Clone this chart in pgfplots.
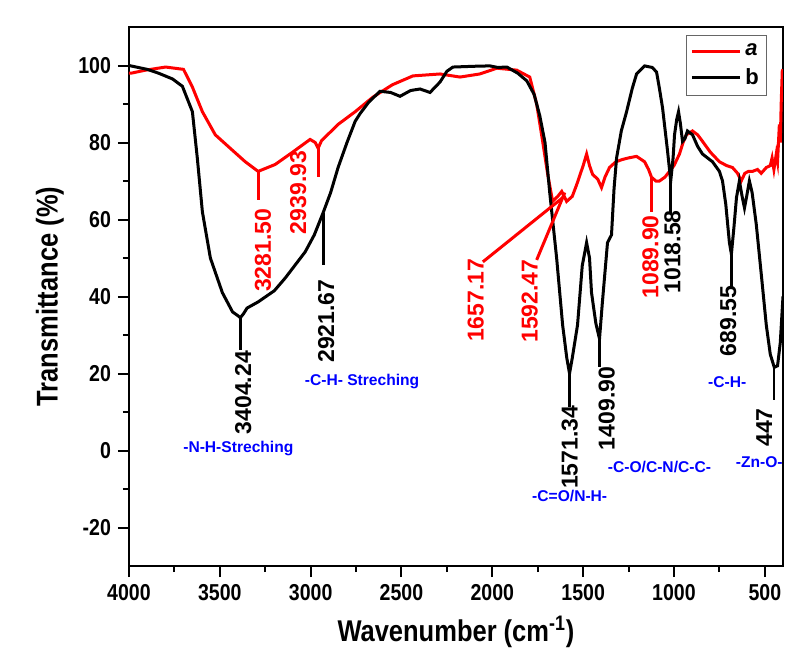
\documentclass[border=0pt]{standalone}
\usepackage{fontspec}
\setmainfont{Liberation Sans}
\newfontfamily\narrow{Liberation Sans}[FakeStretch=0.85]
\usepackage{pgfplots}
\pgfplotsset{compat=1.18}

\begin{document}
\begin{tikzpicture}
\begin{axis}[
    width=327pt, height=269.5pt, scale only axis,
    x dir=reverse,
    xmin=400, xmax=4000, ymin=-30, ymax=110,
    xtick={500,1000,...,4000}, ytick={-20,0,...,100},
    minor x tick num=1, minor y tick num=1,
    tick align=outside, xtick pos=bottom, ytick pos=left,
    major tick length=5.5pt, minor tick length=3pt,
    every tick/.style={black, line width=1pt},
    axis line style={line width=1.1pt},
    /pgf/number format/assume math mode=true,
    /pgf/number format/1000 sep={},
    tick label style={font=\narrow\bfseries\fontsize{11.5}{13}\selectfont},
    xlabel={Wavenumber (cm\textsuperscript{-1})},
    ylabel={Transmittance (\%)},
    label style={font=\narrow\bfseries\fontsize{15}{17}\selectfont},
    x label style={at={(axis description cs:0.5,-0.1225)}, anchor=center},
    y label style={at={(axis description cs:-0.121,0.5)}, anchor=center},
    legend style={at={(0.976,0.985)}, anchor=north east, draw=black!60,
        line width=0.6pt, font=\bfseries\fontsize{11}{13}\selectfont,
        inner sep=2pt, row sep=1pt},
    legend cell align=left,
    legend image code/.code={\draw[#1] (0pt,0pt) -- (24pt,0pt);},
]
% sample a
\addplot[red, line width=1.5pt] coordinates {
(4000,98) (3989,98) (3908,98.8) (3798,99.6) (3700,99) (3651,94.4) (3596,88)
(3525,82) (3431,78) (3360,75) (3289,72.5) (3195,74.3) (3102,77.4) (3003,80.8)
(2975,80) (2959,78.5) (2940,80.5) (2920,81.4) (2849,84.7) (2755,88) (2657,91.8)
(2550,95) (2437,97.3) (2288,97.8) (2178,97) (2069,97.8) (1975,99.3) (1866,98.8)
(1794,97) (1756,90) (1723,80.3) (1695,71.7) (1668,64.7) (1640,66) (1618,67.3)
(1591,64.7) (1560,66) (1536,69) (1500,74) (1481,77) (1465,74) (1448,71.7)
(1420,70.5) (1399,68.3) (1380,71) (1355,73.5) (1320,75) (1283,75.6) (1250,76)
(1206,76.4) (1162,75) (1140,73) (1124,71) (1100,70) (1080,70) (1050,71)
(1025,72.5) (1000,74) (970,77) (950,80) (932,82) (898,83) (870,82) (843,80.3)
(800,77.5) (750,75) (710,74) (678,73.5) (650,72) (630,70) (610,72) (590,72.5)
(568,72.5) (540,73) (520,72) (492,73.5) (470,74) (460,76) (450,73) (437,77)
(430,75) (420,84.7) (415,80) (410,90) (404,98.6) (400,99)
};
\addlegendentry{\textit{a}}
% sample b
\addplot[black, line width=1.5pt] coordinates {
(4000,100) (3900,99) (3837,98) (3760,96.5) (3706,94.6) (3651,88) (3624,76)
(3596,62) (3552,50) (3486,41) (3430,36) (3400,35) (3387,34.5) (3370,35.5)
(3350,37) (3289,38.6) (3200,41.5) (3140,44.8) (3030,51.6) (2980,56) (2931,61.8)
(2890,67) (2849,73.5) (2800,80) (2755,85.5) (2728,87.5) (2680,90.5) (2618,93.3)
(2560,93) (2508,92) (2450,93.5) (2398,93.9) (2343,93) (2288,95.7) (2250,98.5)
(2217,99.6) (2100,99.8) (2014,99.9) (1970,99.5) (1920,99.6) (1860,98) (1810,96)
(1770,92.5) (1739,87) (1710,80) (1684,67) (1646,50) (1613,32.6) (1590,24)
(1575,20) (1560,24) (1531,32.6) (1505,48) (1481,54) (1465,50) (1454,41)
(1430,33) (1410,29) (1395,38) (1366,54) (1344,56) (1330,68) (1316,76) (1290,83)
(1261,88) (1230,94) (1206,97.8) (1162,99.9) (1120,99.5) (1096,98.3) (1080,94)
(1063,89) (1036,78) (1018,70) (1005,76) (997,82) (985,86) (975,88) (965,85)
(953,80.3) (940,81) (926,83) (898,82) (870,79) (843,77) (788,75) (750,72.5)
(733,70) (715,64) (695,54) (684,51) (670,58) (656,65.7) (640,70) (625,66)
(612,63) (600,66) (585,70) (570,67) (547,58.7) (520,46) (492,32.6) (470,25)
(448,21.6) (430,22) (415,28) (400,40)
};
\addlegendentry{b}

% peak markers, sample a
\draw[red, line width=1.5pt] (axis cs:3289,72.5) -- (axis cs:3289,65);
\draw[red, line width=1.5pt] (axis cs:2959,78.5) -- (axis cs:2959,71);
\draw[red, line width=1.5pt] (axis cs:2052,49) -- (axis cs:1612,65.7);
\draw[red, line width=1.5pt] (axis cs:1756,49.5) -- (axis cs:1601,67);
\draw[red, line width=1.5pt] (axis cs:1124,71) -- (axis cs:1124,62);
\begin{scope}[every node/.style={red, rotate=90, font=\bfseries\fontsize{11.5}{13}\selectfont}]
\node at (axis cs:3262,52) {3281.50};
\node at (axis cs:3069,67) {2939.93};
\node at (axis cs:2091,39) {1657.17};
\node at (axis cs:1794,38.8) {1592.47};
\node at (axis cs:1129,50.3) {1089.90};
\end{scope}

% peak markers, sample b
\draw[black, line width=1.5pt] (axis cs:3387,34.5) -- (axis cs:3387,26);
\draw[black, line width=1.5pt] (axis cs:2931,61.8) -- (axis cs:2931,48.2);
\draw[black, line width=1.5pt] (axis cs:1575,20) -- (axis cs:1575,11.2);
\draw[black, line width=1.5pt] (axis cs:1410,29) -- (axis cs:1410,21.6);
\draw[black, line width=1.5pt] (axis cs:1018,70) -- (axis cs:1018,61.5);
\draw[black, line width=1.5pt] (axis cs:684,51) -- (axis cs:684,42.4);
\draw[black, line width=1pt] (axis cs:448,21.6) -- (axis cs:448,13);
\begin{scope}[every node/.style={black, rotate=90, font=\bfseries\fontsize{11.5}{13}\selectfont}]
\node at (axis cs:3371,15) {3404.24};
\node at (axis cs:2915,33.6) {2921.67};
\node at (axis cs:1574,0.8) {1571.34};
\node at (axis cs:1371,10.9) {1409.90};
\node at (axis cs:1009,51.6) {1018.58};
\node at (axis cs:701,33.6) {689.55};
\node at (axis cs:503,6) {447};
\end{scope}

% band assignments
\begin{scope}[every node/.style={blue, font=\bfseries\fontsize{7.8}{9}\selectfont}]
\node at (axis cs:3398,0.5) {-N-H-Streching};
\node at (axis cs:2717,18) {-C-H- Streching};
\node at (axis cs:1574,-11.7) {-C=O/N-H-};
\node at (axis cs:1080,-4.2) {-C-O/C-N/C-C-};
\node at (axis cs:707,17.7) {-C-H-};
\node at (axis cs:531,-2.9) {-Zn-O-};
\end{scope}
\end{axis}
\pgfresetboundingbox
\path ([xshift=-64.5pt,yshift=-41.5pt]current axis.south west)
    rectangle ([xshift=4pt,yshift=13.5pt]current axis.north east);
\end{tikzpicture}
\end{document}
